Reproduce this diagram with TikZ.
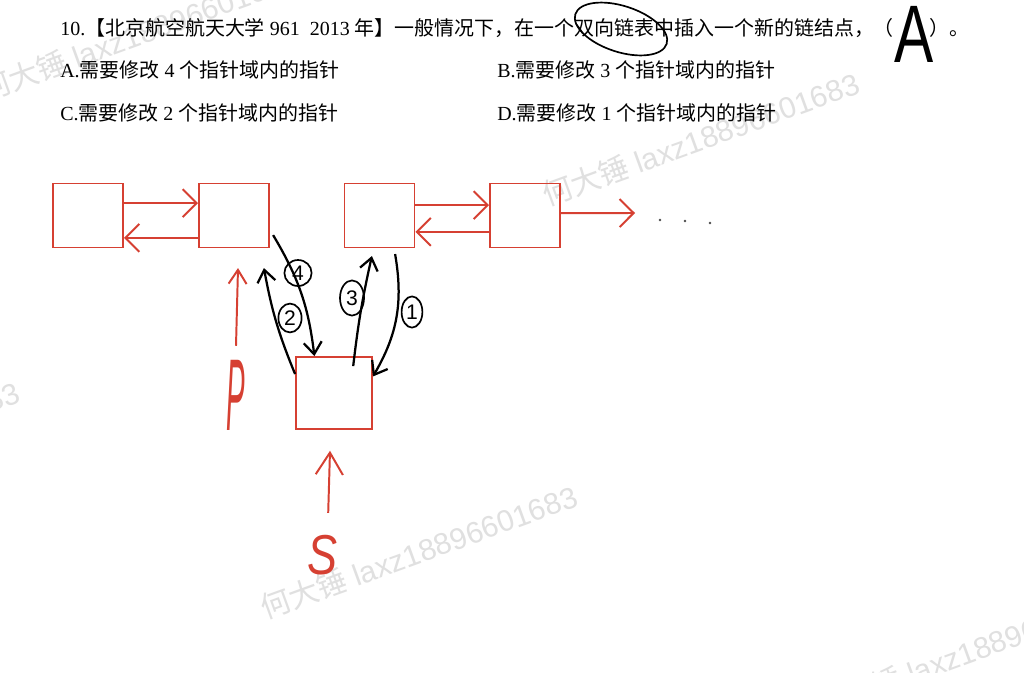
\documentclass[tikz,border=0pt]{standalone}
\usepackage{fontspec}
\setmainfont{Liberation Serif}
\setsansfont{Liberation Sans}
\newfontfamily\cjk{Noto Sans CJK SC}
\usetikzlibrary{shapes.geometric,arrows.meta}
\definecolor{hred}{RGB}{214,64,50}

\begin{document}
\begin{tikzpicture}[x=0.025cm, y=-0.025cm,
  qtext/.style={anchor=west, inner sep=0pt, font=\fontsize{14.2}{17}\selectfont},
  wmark/.style={anchor=base west, rotate=20, inner sep=0pt, text=black!12, font=\sffamily\fontsize{21.3}{21.3}\selectfont},
  listnode/.style={draw=hred, line width=1.3pt, minimum width=1.75cm, minimum height=1.6cm, inner sep=0pt},
  ptr/.style={draw=hred, line width=1.4pt, -{Straight Barb[length=0.35cm,width=0.7cm]}},
  hand/.style={draw=black, line width=1.6pt, -{Straight Barb[length=0.3cm,width=0.45cm]}},
  numtag/.style={draw, ellipse, line width=1.2pt, inner sep=0pt, font=\sffamily\fontsize{15}{15}\selectfont},
  dotmark/.style={circle, fill=black!70, inner sep=0pt, minimum size=0.07cm}
]

\useasboundingbox (0,0) rectangle (1024,672);
\clip (0,0) rectangle (1024,672);
\fill[white] (0,0) rectangle (1024,672);

%%%%%%%%%%%%%%%%%%%%%%%%%%%%%%%%%%%%%%%%%%%%%%%%%%%%%%%%%%%%%%%%
% Watermarks
%%%%%%%%%%%%%%%%%%%%%%%%%%%%%%%%%%%%%%%%%%%%%%%%%%%%%%%%%%%%%%%%

\node[wmark] (wm1) at (-15,102) {{\cjk 何大锤} laxz18896601683};
\node[wmark] (wm2) at (547,207) {{\cjk 何大锤} laxz18896601683};
\node[wmark] (wm3) at (-293,516) {{\cjk 何大锤} laxz18896601683};
\node[wmark] (wm4) at (265,620) {{\cjk 何大锤} laxz18896601683};
\node[wmark] (wm5) at (820,718) {{\cjk 何大锤} laxz18896601683};

%%%%%%%%%%%%%%%%%%%%%%%%%%%%%%%%%%%%%%%%%%%%%%%%%%%%%%%%%%%%%%%%
% Question
%%%%%%%%%%%%%%%%%%%%%%%%%%%%%%%%%%%%%%%%%%%%%%%%%%%%%%%%%%%%%%%%

\node[qtext] (q_title) at (60,28) {10.{\cjk 【北京航空航天大学} 961 \ 2013 {\cjk 年】一般情况下，在一个双向链表中插入一个新的链结点，（}\hspace{1.8em}{\cjk ）。}};

\node[qtext] (q_A) at (60,70) {A.{\cjk 需要修改} 4 {\cjk 个指针域内的指针}};
\node[qtext] (q_B) at (497,70) {B.{\cjk 需要修改} 3 {\cjk 个指针域内的指针}};
\node[qtext] (q_C) at (60,113) {C.{\cjk 需要修改} 2 {\cjk 个指针域内的指针}};
\node[qtext] (q_D) at (497,113) {D.{\cjk 需要修改} 1 {\cjk 个指针域内的指针}};

% Marks
\node[draw, ellipse, line width=1.2pt, rotate=-18, minimum width=2.4cm, minimum height=1.15cm] (q_mark) at (621,29) {};
\node[inner sep=0pt, font=\sffamily\fontsize{58}{58}\selectfont, xscale=0.72] (q_ans) at (914,34) {A};

%%%%%%%%%%%%%%%%%%%%%%%%%%%%%%%%%%%%%%%%%%%%%%%%%%%%%%%%%%%%%%%%
% List
%%%%%%%%%%%%%%%%%%%%%%%%%%%%%%%%%%%%%%%%%%%%%%%%%%%%%%%%%%%%%%%%

% Different components
\node[listnode] (l_N1) at (88,215.5) {};
\node[listnode] (l_N2) at (234,215.5) {};
\node[listnode] (l_N3) at (379.5,215.5) {};
\node[listnode] (l_N4) at (525,215.5) {};

\coordinate (l_tail) at (635,213);
\node[dotmark] (l_d1) at (660,220) {};
\node[dotmark] (l_d2) at (685,221) {};
\node[dotmark] (l_d3) at (710,223) {};

% Edges
\draw[ptr] ([yshift=0.31cm]l_N1.east) -- ([yshift=0.31cm]l_N2.west);
\draw[ptr] ([yshift=-0.56cm]l_N2.west) -- ([yshift=-0.56cm]l_N1.east);
\draw[ptr] ([yshift=0.26cm]l_N3.east) -- ([yshift=0.26cm]l_N4.west);
\draw[ptr] ([yshift=-0.41cm]l_N4.west) -- ([yshift=-0.41cm]l_N3.east);
\draw[ptr] ([yshift=0.06cm]l_N4.east) -- (l_tail);

%%%%%%%%%%%%%%%%%%%%%%%%%%%%%%%%%%%%%%%%%%%%%%%%%%%%%%%%%%%%%%%%
% New node
%%%%%%%%%%%%%%%%%%%%%%%%%%%%%%%%%%%%%%%%%%%%%%%%%%%%%%%%%%%%%%%%

\node[listnode, minimum width=1.9cm, minimum height=1.8cm] (l_S) at (334,393) {};

% Pointer names
\node[inner sep=0pt, text=hred, font=\sffamily\itshape\fontsize{22}{22}\selectfont, xscale=0.9, yscale=3.3] (p_P) at (236,395) {P};
\node[inner sep=0pt, text=hred, font=\sffamily\itshape\fontsize{40}{40}\selectfont, xscale=0.8] (p_S) at (323,555) {S};

\draw[ptr, -{Straight Barb[length=0.35cm,width=0.45cm]}] ([yshift=0.33cm]p_P.north) -- ([xshift=0.1cm,yshift=-0.49cm]l_N2.south);
\draw[ptr, -{Straight Barb[length=0.55cm,width=0.68cm]}] ([xshift=0.13cm,yshift=0.55cm]p_S.north) -- ([xshift=-0.1cm,yshift=-0.52cm]l_S.south);

%%%%%%%%%%%%%%%%%%%%%%%%%%%%%%%%%%%%%%%%%%%%%%%%%%%%%%%%%%%%%%%%
% Insertion steps
%%%%%%%%%%%%%%%%%%%%%%%%%%%%%%%%%%%%%%%%%%%%%%%%%%%%%%%%%%%%%%%%

% Edges
\draw[hand] ([xshift=0.39cm,yshift=-0.14cm]l_N3.south) to[bend left=20] (l_S.23);
\draw[hand] (l_S.154) to[bend left=6] ([xshift=-0.15cm,yshift=-0.49cm]l_N2.south east);
\draw[hand] ([xshift=0.48cm,yshift=-0.25cm]l_S.north) to[bend left=3] ([xshift=-0.19cm,yshift=-0.19cm]l_N3.south);
\draw[hand] ([xshift=0.08cm,yshift=-0.49cm]l_N2.east) to[bend left=12] (l_S.118);

% Step numbers
\node[numtag, minimum width=0.52cm, minimum height=0.78cm] (s_1) at (412,312) {1};
\node[numtag, minimum width=0.58cm, minimum height=0.72cm] (s_2) at (290,318) {2};
\node[numtag, minimum width=0.6cm, minimum height=0.88cm] (s_3) at (352,298) {3};
\node[numtag, minimum width=0.68cm, minimum height=0.65cm] (s_4) at (298,273) {4};

\end{tikzpicture}
\end{document}
